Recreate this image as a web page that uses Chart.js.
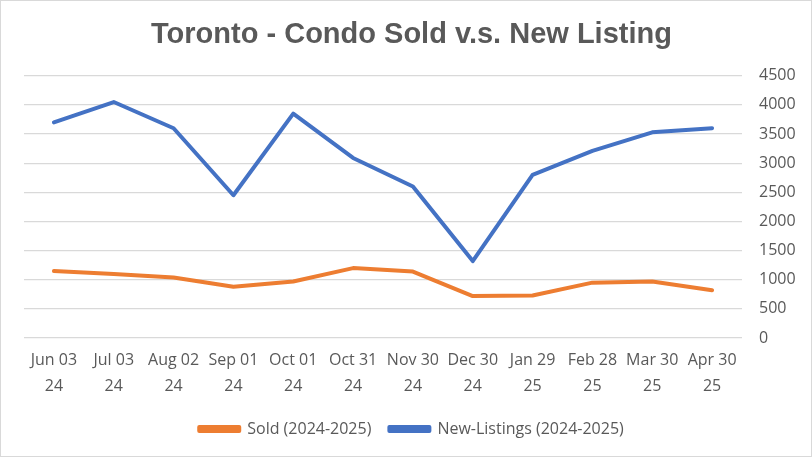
<!DOCTYPE html>
<html>
<head>
<meta charset="utf-8">
<script src="https://cdn.jsdelivr.net/npm/chart.js@4"></script>
<style>
  html, body { margin: 0; padding: 0; background: #fff; }
  #wrap { width: 810px; height: 455px; border: 1px solid #d9d9d9; position: relative; }
</style>
</head>
<body>
<div id="wrap"><canvas id="condoChart"></canvas></div>
<script>
// Chart data
const categories = [
  ['Jun 03', '24'], ['Jul 03', '24'], ['Aug 02', '24'], ['Sep 01', '24'],
  ['Oct 01', '24'], ['Oct 31', '24'], ['Nov 30', '24'], ['Dec 30', '24'],
  ['Jan 29', '25'], ['Feb 28', '25'], ['Mar 30', '25'], ['Apr 30', '25']
];
const soldValues = [1150, 1100, 1040, 880, 970, 1200, 1140, 720, 730, 950, 970, 820];
const newListingValues = [3700, 4050, 3600, 2450, 3850, 3090, 2600, 1320, 2800, 3210, 3530, 3600];
const yMin = 0;
const yMax = 4500;
const yStep = 500;

const labelFont = "'Open Sans', sans-serif";
const textColor = '#595959';

const ctx = document.getElementById('condoChart').getContext('2d');
new Chart(ctx, {
  type: 'line',
  data: {
    labels: categories,
    datasets: [{
      label: 'Sold (2024-2025)',
      data: soldValues,
      borderColor: '#ED7D31',
      backgroundColor: '#ED7D31',
      borderWidth: 4,
      pointRadius: 0,
      borderJoinStyle: 'round',
      borderCapStyle: 'round',
      tension: 0
    }, {
      label: 'New-Listings (2024-2025)',
      data: newListingValues,
      borderColor: '#4472C4',
      backgroundColor: '#4472C4',
      borderWidth: 4,
      pointRadius: 0,
      borderJoinStyle: 'round',
      borderCapStyle: 'round',
      tension: 0
    }]
  },
  options: {
    responsive: true,
    maintainAspectRatio: false,
    animation: false,
    layout: { padding: { left: 23, right: 12, top: 8, bottom: 9 } },
    plugins: {
      title: {
        display: true,
        text: 'Toronto - Condo Sold v.s. New Listing',
        color: textColor,
        font: { family: "'Liberation Sans', Arial, sans-serif", size: 29, weight: 'bold' },
        padding: { top: 9, bottom: 23 }
      },
      legend: {
        position: 'bottom',
        labels: {
          color: textColor,
          font: { family: labelFont, size: 16 },
          boxWidth: 40,
          boxHeight: 4,
          padding: 18
        }
      },
      tooltip: { enabled: false }
    },
    scales: {
      x: {
        offset: true,
        grid: { display: false, drawTicks: false },
        border: { display: false },
        ticks: {
          color: textColor,
          font: { family: labelFont, size: 16, lineHeight: 1.6 },
          maxRotation: 0,
          autoSkip: false,
          padding: 10
        },
        afterFit: (axis) => { axis.height = 65; }
      },
      y: {
        position: 'right',
        min: yMin,
        max: yMax,
        grid: { color: '#d9d9d9', lineWidth: 1.3, drawTicks: false },
        border: { display: false },
        ticks: {
          stepSize: yStep,
          color: textColor,
          font: { family: labelFont, size: 16 },
          padding: 17,
          callback: (v) => String(v)
        },
        afterFit: (axis) => { axis.width = 57; }
      }
    }
  }
});
</script>
</body>
</html>
